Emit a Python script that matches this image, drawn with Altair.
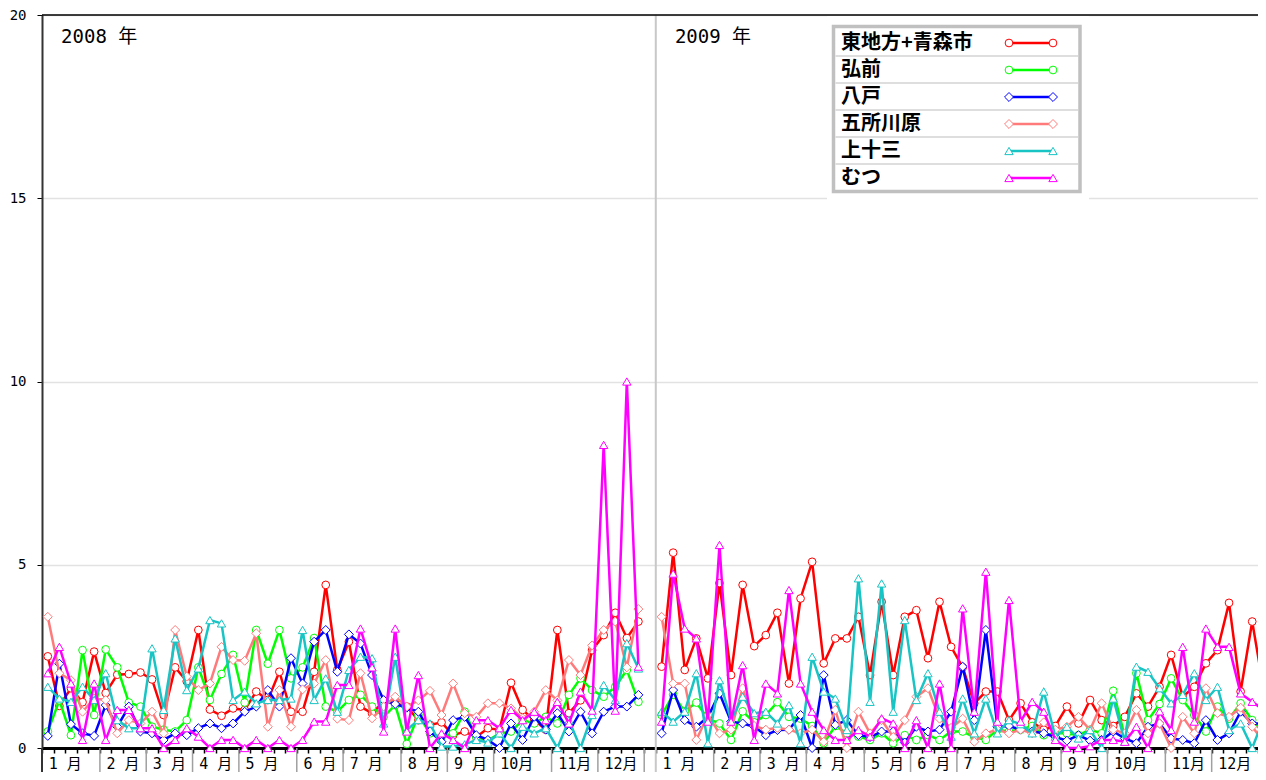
import altair as alt
import pandas as pd

# ---------------- data ----------------
NAMES = ["東地方+青森市", "弘前", "八戸", "五所川原", "上十三", "むつ"]
COLORS = ["#FF0000", "#00FF00", "#0000FF", "#FF7B7B", "#19C4C4", "#FF00FF"]
SHAPES = ["circle", "circle", "diamond", "diamond", "triangle-up", "triangle-up"]
SIZES = [60, 60, 80, 80, 70, 70]

red_2008 = [2.50, 1.15, 1.63, 1.25, 2.63, 1.50, 2.00, 2.02, 2.06, 1.87,
            0.90, 2.20, 1.82, 3.22, 1.05, 0.88, 1.08, 1.04, 1.54, 1.31,
            2.08, 0.99, 0.99, 2.08, 4.45, 2.13, 2.90, 1.13, 0.95, 1.26,
            1.22, 1.13, 0.76, 0.63, 0.70, 0.35, 0.45, 0.30, 0.54, 0.50,
            1.78, 1.04, 0.76, 0.50, 3.22, 0.95, 1.30, 2.67, 3.08, 3.69,
            3.00, 3.45]
green_2008 = [0.45, 1.30, 0.35, 2.67, 0.90, 2.69, 2.20, 1.24, 1.13, 0.58,
              0.50, 0.45, 0.76, 2.20, 1.31, 2.02, 2.54, 1.24, 3.22, 2.30,
              3.22, 1.90, 2.20, 3.00, 1.13, 0.99, 1.31, 1.45, 1.13, 0.85,
              1.17, 0.11, 0.90, 0.40, 0.30, 0.40, 0.99, 0.30, 0.20, 0.40,
              0.45, 0.76, 0.67, 0.85, 0.67, 1.45, 1.90, 1.58, 1.40, 1.67,
              2.13, 1.26]
blue_2008 = [0.33, 2.30, 0.65, 0.40, 0.33, 1.17, 0.58, 1.13, 0.45, 0.40,
             0.22, 0.40, 0.35, 0.54, 0.67, 0.54, 0.67, 0.99, 1.13, 1.58,
             1.13, 2.45, 1.76, 2.90, 3.22, 2.08, 3.10, 2.85, 1.99, 1.31,
             1.20, 1.10, 0.99, 0.45, 0.17, 0.76, 0.85, 0.35, 0.22, 0.00,
             0.67, 0.22, 0.85, 0.50, 0.95, 0.45, 0.99, 0.40, 0.99, 1.13,
             1.13, 1.45]
salmon_2008 = [3.58, 2.04, 1.85, 0.99, 1.35, 1.31, 0.40, 0.76, 0.67, 0.99,
               0.40, 3.22, 1.95, 1.58, 1.76, 2.76, 2.40, 2.38, 3.13, 0.58,
               1.58, 0.58, 1.60, 1.76, 2.40, 0.80, 0.76, 2.04, 0.81, 1.13,
               1.40, 1.13, 1.30, 1.56, 0.90, 1.76, 0.95, 0.85, 1.22, 1.22,
               1.08, 0.81, 0.99, 1.58, 1.30, 2.40, 1.99, 2.80, 3.22, 3.45,
               2.20, 3.79]
cyan_2008 = [1.67, 1.35, 1.26, 1.67, 1.31, 2.04, 0.76, 0.54, 0.54, 2.72,
             1.04, 2.99, 1.58, 2.17, 3.49, 3.40, 1.31, 1.54, 1.22, 1.31,
             1.31, 1.35, 3.22, 1.31, 1.90, 0.99, 2.13, 2.49, 2.45, 0.67,
             2.49, 0.49, 0.76, 0.67, 0.04, 0.04, 0.10, 0.22, 0.15, 0.40,
             0.00, 0.58, 0.40, 0.54, 0.00, 0.76, 0.00, 0.90, 1.72, 1.31,
             2.86, 2.17]
magenta_2008 = [2.04, 2.76, 1.76, 0.22, 1.76, 0.22, 1.04, 1.04, 0.54, 0.54,
                0.00, 0.22, 0.54, 0.31, 0.00, 0.22, 0.22, 0.00, 0.22, 0.00,
                0.22, 0.00, 0.22, 0.72, 0.72, 1.72, 1.72, 3.26, 2.20, 0.45,
                3.26, 0.45, 1.99, 0.00, 0.40, 0.22, 0.00, 0.76, 0.76, 0.54,
                1.04, 0.76, 0.99, 0.76, 1.26, 0.67, 1.54, 1.02, 8.27, 1.02,
                10.00, 2.22]

red_2009 = [2.22, 5.33, 2.13, 2.99, 1.90, 4.50, 1.99, 4.45, 2.78, 3.08,
            3.69, 1.76, 4.08, 5.08, 2.31, 2.99, 2.99, 3.58, 1.99, 3.99,
            1.99, 3.58, 3.76, 2.45, 3.99, 2.76, 2.20, 1.22, 1.54, 1.54,
            0.76, 1.22, 0.70, 0.50, 0.60, 1.13, 0.67, 1.31, 0.76, 0.60,
            0.85, 1.49, 1.13, 1.67, 2.54, 1.40, 1.67, 2.31, 2.67, 3.96,
            1.54, 3.45, 1.58]
green_2009 = [0.90, 1.45, 1.00, 1.24, 0.80, 0.67, 0.22, 1.00, 0.70, 0.90,
              1.25, 0.85, 0.80, 0.60, 0.13, 0.60, 0.40, 0.31, 0.22, 0.40,
              0.13, 0.35, 0.22, 0.35, 0.22, 0.45, 0.45, 0.30, 0.22, 0.50,
              0.45, 0.50, 0.60, 0.35, 0.40, 0.40, 0.35, 0.50, 0.40, 1.56,
              0.31, 2.04, 0.76, 1.20, 1.90, 1.31, 0.90, 0.45, 1.13, 0.80,
              1.22, 0.76, 0.40]
blue_2009 = [0.40, 1.58, 0.76, 0.58, 0.85, 1.49, 0.72, 0.67, 0.58, 0.35,
             0.49, 0.50, 0.90, 0.00, 1.99, 0.63, 0.76, 0.35, 0.30, 0.45,
             0.45, 0.15, 0.58, 0.45, 0.50, 0.99, 2.22, 0.76, 3.22, 0.58,
             0.60, 0.50, 0.45, 0.40, 0.30, 0.20, 0.35, 0.20, 0.22, 0.45,
             0.26, 0.13, 0.58, 0.67, 0.26, 0.22, 0.13, 0.76, 0.22, 0.40,
             0.99, 0.67, 0.67]
salmon_2009 = [3.58, 1.76, 1.76, 0.22, 0.90, 0.40, 0.50, 1.63, 0.60, 0.50,
               0.55, 0.50, 0.40, 0.50, 0.17, 1.04, 0.00, 0.99, 0.40, 0.76,
               0.30, 0.76, 1.40, 1.63, 0.80, 0.55, 0.80, 0.17, 0.40, 0.50,
               0.40, 0.50, 0.40, 0.70, 0.50, 0.58, 0.85, 0.49, 1.22, 0.50,
               0.40, 1.04, 0.40, 0.67, 0.00, 0.85, 0.40, 1.63, 0.95, 0.85,
               1.10, 0.58, 0.17]
cyan_2009 = [0.99, 0.72, 0.99, 2.04, 0.13, 1.85, 0.76, 1.40, 0.95, 0.99,
             0.67, 1.17, 0.13, 2.49, 1.54, 1.35, 0.49, 4.63, 1.26, 4.49,
             0.99, 3.49, 1.31, 2.04, 0.99, 0.31, 1.35, 0.40, 1.35, 0.40,
             0.76, 0.65, 0.40, 1.54, 0.31, 0.58, 0.26, 0.49, 0.00, 1.35,
             0.17, 2.22, 2.08, 1.63, 1.22, 1.45, 2.04, 1.31, 1.67, 0.49,
             0.67, 0.00, 0.81]
magenta_2009 = [0.72, 4.76, 3.26, 2.99, 0.72, 5.54, 0.72, 2.26, 0.22, 1.76,
                1.49, 4.31, 1.76, 0.99, 0.49, 0.22, 0.22, 0.49, 0.31, 0.81,
                0.67, 0.00, 0.76, 0.00, 1.76, 0.00, 3.81, 0.99, 4.81, 0.72,
                4.04, 0.72, 1.26, 0.99, 0.22, 0.00, 0.00, 0.05, 0.22, 0.22,
                0.17, 0.58, 0.00, 1.00, 0.49, 2.76, 0.72, 3.26, 2.76, 2.76,
                1.49, 1.26, 1.04]

VALUES = {
    2008: [red_2008, green_2008, blue_2008, salmon_2008, cyan_2008, magenta_2008],
    2009: [red_2009, green_2009, blue_2009, salmon_2009, cyan_2009, magenta_2009],
}
YEAR_START_SLOT = {2008: 0, 2009: 53}
YEAR_LABELS = ["2008 年", "2009 年"]
MONTH_START = {
    2008: [0, 5, 9, 13, 17, 22, 26, 31, 35, 39, 44, 48],
    2009: [0, 5, 9, 13, 18, 22, 26, 31, 35, 39, 44, 48],
}
MONTH_LABELS = ["1 月", "2 月", "3 月", "4 月", "5 月", "6 月",
                "7 月", "8 月", "9 月", "10月", "11月", "12月"]

# ---------------- tables ----------------
rows = []
for year, series_list in VALUES.items():
    for name, vals in zip(NAMES, series_list):
        for w, v in enumerate(vals):
            rows.append({"series": name, "year": str(year),
                         "slot": YEAR_START_SLOT[year] + w + 0.5, "value": v})
df = pd.DataFrame(rows)

mlab_rows, msep_rows = [], []
for year, starts in MONTH_START.items():
    for s, lab in zip(starts, MONTH_LABELS):
        mlab_rows.append({"slot": YEAR_START_SLOT[year] + s + 2, "label": lab})
        if s != 0:
            msep_rows.append({"slot": YEAR_START_SLOT[year] + s})
msep_rows.append({"slot": 52})
mlab = pd.DataFrame(mlab_rows)
msep = pd.DataFrame(msep_rows)
years_df = pd.DataFrame({"slot": [YEAR_START_SLOT[y] + 1.65 for y in (2008, 2009)],
                         "label": YEAR_LABELS})
ysep = pd.DataFrame({"slot": [53]})
one = pd.DataFrame({"k": [0]})

# ---------------- chart ----------------
W, H = 1216, 733
BOT = 24
MONO = "DejaVu Sans Mono, Noto Sans CJK JP"
xscale = alt.Scale(domain=[0, 105], nice=False, zero=False)
yscale = alt.Scale(domain=[0, 20], nice=False, zero=True)
xaxis = alt.Axis(values=list(range(0, 106)), labels=False, ticks=True, tickSize=5,
                 tickWidth=1.5, tickColor="black", domainColor="black",
                 domainWidth=3, grid=False, title=None)
yaxis = alt.Axis(values=[0, 5, 10, 15, 20], tickSize=5, tickColor="black",
                 domainColor="#333333", domainWidth=2, labelFont=MONO,
                 labelFontSize=14, labelColor="black", labelPadding=11,
                 grid=True, gridColor="#E2E2E2", gridWidth=1.5, title=None)
X = alt.X("slot:Q", scale=xscale, axis=xaxis)
Y = alt.Y("value:Q", scale=yscale, axis=yaxis)

layers = []
# year separator
layers.append(alt.Chart(ysep).mark_rule(color="#C8C8C8", strokeWidth=2).encode(
    x=X, y=alt.value(0), y2=alt.value(H + BOT)))
# white area behind legend (hides the grid line there)
layers.append(alt.Chart(one).mark_rect(fill="white").encode(
    x=alt.value(785), x2=alt.value(1047), y=alt.value(1), y2=alt.value(188)))

for name, c, shp, sz in zip(NAMES, COLORS, SHAPES, SIZES):
    sub = df[df.series == name]
    layers.append(alt.Chart(sub).mark_line(color=c, strokeWidth=2.5).encode(
        x=X, y=Y, detail="year:N", order="slot:Q"))
    layers.append(alt.Chart(sub).mark_point(shape=shp, filled=True, fill="white",
                                            stroke=c, strokeWidth=1, size=sz,
                                            opacity=1).encode(x=X, y=Y))

# month separators & labels below the axis
layers.append(alt.Chart(msep).mark_rule(color="#A0A0A0", strokeWidth=1.5).encode(
    x=X, y=alt.value(H), y2=alt.value(H + BOT)))
layers.append(alt.Chart(mlab).mark_text(font=MONO, fontSize=15, color="black",
                                        align="center", baseline="middle").encode(
    x=X, y=alt.value(H + 16), text="label:N"))
layers.append(alt.Chart(one).mark_rule(color="#333333", strokeWidth=2).encode(
    x=alt.value(0), y=alt.value(H), y2=alt.value(H + BOT)))
# top border
layers.append(alt.Chart(one).mark_rule(color="black", strokeWidth=1.5).encode(
    x=alt.value(0), x2=alt.value(W), y=alt.value(0)))
# year labels
layers.append(alt.Chart(years_df).mark_text(font=MONO, fontSize=19, color="black",
                                            align="left", baseline="middle").encode(
    x=X, y=alt.value(22), text="label:N"))

# legend
layers.append(alt.Chart(one).mark_rect(fill="white", stroke="#C0C0C0",
                                       strokeWidth=3.5).encode(
    x=alt.value(791.5), x2=alt.value(1038), y=alt.value(11.5), y2=alt.value(176.5)))
for i in range(5):
    layers.append(alt.Chart(one).mark_rule(color="#D3D3D3", strokeWidth=1.5).encode(
        x=alt.value(793.5), x2=alt.value(1036), y=alt.value(41 + 27 * i)))
for i, (name, c, shp, sz) in enumerate(zip(NAMES, COLORS, SHAPES, SIZES)):
    yc = 28 + 27 * i
    layers.append(alt.Chart(one).mark_text(text=name, font="Noto Sans CJK JP",
                                           fontSize=20, fontWeight="bold",
                                           color="black", align="left",
                                           baseline="middle").encode(
        x=alt.value(799), y=alt.value(yc)))
    layers.append(alt.Chart(one).mark_rule(color=c, strokeWidth=2.5).encode(
        x=alt.value(967), x2=alt.value(1011), y=alt.value(yc)))
    for xp in (967, 1011):
        layers.append(alt.Chart(one).mark_point(shape=shp, filled=True, fill="white",
                                                stroke=c, strokeWidth=1, size=sz,
                                                opacity=1).encode(
            x=alt.value(xp), y=alt.value(yc)))

chart = alt.layer(*layers).properties(
    width=W, height=H,
    padding={"left": 34, "top": 7, "right": 0, "bottom": BOT},
    autosize=alt.AutoSizeParams(type="none"),
).configure_view(stroke=None)

chart.save("out.html", embed_options={"renderer": "svg", "actions": False})
